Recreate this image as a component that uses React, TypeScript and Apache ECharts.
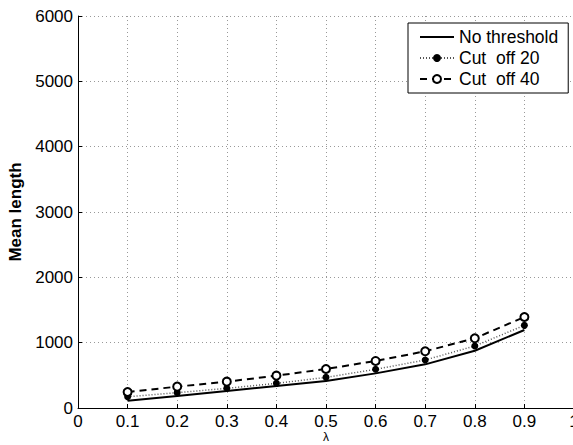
import React, { useEffect, useRef } from "react";
import * as echarts from "echarts";

const lambdas = [0.1, 0.2, 0.3, 0.4, 0.5, 0.6, 0.7, 0.8, 0.9];
const noThreshold = [112, 184, 260, 337, 413, 530, 668, 877, 1194];
const cutOff20 = [173, 235, 301, 377, 469, 592, 735, 949, 1265];
const cutOff40 = [245, 327, 403, 495, 597, 720, 868, 1067, 1393];
const seriesNames = ["No threshold", "Cut  off 20", "Cut  off 40"];

const FONT = "Liberation Sans, Arial, Helvetica, sans-serif";

export default function App() {
  const ref = useRef<HTMLDivElement>(null);
  useEffect(() => {
    if (!ref.current) return;
    const chart = echarts.init(ref.current, undefined, { renderer: "svg" });
    const pair = (arr: number[]) => lambdas.map((x, i) => [x, arr[i]]);
    chart.setOption({
      animation: false,
      backgroundColor: "#ffffff",
      textStyle: { fontFamily: FONT },
      grid: { left: 78, top: 16, width: 496, height: 392, containLabel: false, outerBoundsMode: "none" },
      legend: {
        left: 408,
        top: 23,
        orient: "vertical",
        backgroundColor: "#ffffff",
        borderColor: "#000000",
        borderWidth: 1,
        borderRadius: 0,
        padding: [5, 10, 5, 11],
        itemGap: 3,
        itemWidth: 34,
        itemHeight: 10,
        textStyle: { fontFamily: FONT, fontSize: 17.5, color: "#000" },
        data: [
          { name: seriesNames[0], itemStyle: { opacity: 0 } },
          { name: seriesNames[1] },
          { name: seriesNames[2] },
        ],
      },
      xAxis: {
        type: "value",
        min: 0,
        max: 1,
        interval: 0.1,
        name: "λ",
        nameLocation: "middle",
        nameGap: 23,
        nameMoveOverlap: false,
        nameTextStyle: { fontFamily: FONT, fontSize: 12, color: "#000", verticalAlign: "top" },
        axisLine: { show: true, onZero: false, lineStyle: { color: "#000", width: 1 } },
        axisTick: { show: true, inside: true, length: 4, lineStyle: { color: "#000" } },
        axisLabel: { fontFamily: FONT, fontSize: 17, color: "#000", margin: 5, formatter: (v: number) => String(Math.round(v * 10) / 10) },
        splitLine: { show: true, lineStyle: { color: "#999", type: [1, 3], width: 1 } },
      },
      yAxis: {
        type: "value",
        min: 0,
        max: 6000,
        interval: 1000,
        name: "Mean length",
        nameLocation: "middle",
        nameGap: 54,
        nameMoveOverlap: false,
        nameTextStyle: { fontFamily: FONT, fontSize: 17, fontWeight: "bold", color: "#000" },
        axisLine: { show: true, lineStyle: { color: "#000", width: 1 } },
        axisTick: { show: true, inside: true, length: 4, lineStyle: { color: "#000" } },
        axisLabel: { fontFamily: FONT, fontSize: 17, color: "#000", margin: 5, formatter: (v: number) => String(v) },
        splitLine: { show: true, lineStyle: { color: "#999", type: [1, 3], width: 1 } },
      },
      series: [
        {
          name: seriesNames[0],
          type: "line",
          data: pair(noThreshold),
          showSymbol: false,
          symbol: "none",
          lineStyle: { color: "#000", width: 2 },
          itemStyle: { color: "#000" },
        },
        {
          name: seriesNames[1],
          type: "line",
          data: pair(cutOff20),
          symbol: "circle",
          symbolSize: 7,
          lineStyle: { color: "#555", width: 1.5, type: [1, 2] },
          itemStyle: { color: "#000", borderColor: "#000", borderWidth: 0 },
        },
        {
          name: seriesNames[2],
          type: "line",
          data: pair(cutOff40),
          symbol: "circle",
          symbolSize: 8,
          lineStyle: { color: "#000", width: 2, type: [7, 5] },
          itemStyle: { color: "#ffffff", borderColor: "#000", borderWidth: 2 },
        },
      ],
    });
    return () => chart.dispose();
  }, []);
  return (
    <div
      ref={ref}
      style={{ position: "fixed", left: 0, top: 0, width: 573, height: 445, background: "#fff" }}
    />
  );
}
